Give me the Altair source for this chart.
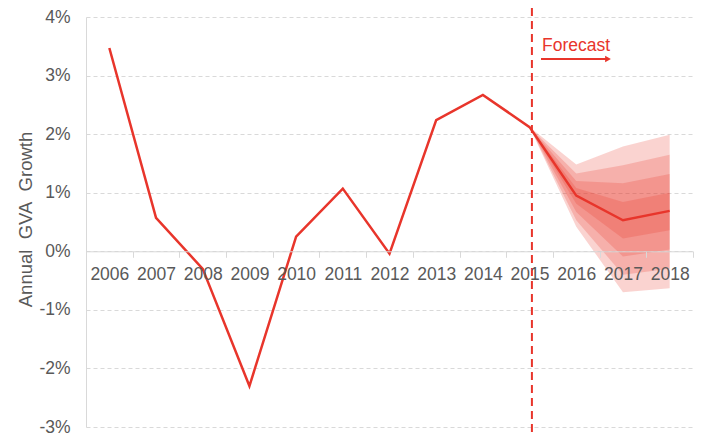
import altair as alt
import pandas as pd

years = [str(y) for y in range(2006, 2019)]
hist_years = ["2006", "2007", "2008", "2009", "2010", "2011", "2012", "2013", "2014", "2015"]
hist_growth = [3.47, 0.57, -0.30, -2.30, 0.25, 1.07, -0.04, 2.24, 2.67, 2.12]

fc_years = ["2015", "2016", "2017", "2018"]
fc_central = [2.12, 0.95, 0.53, 0.69]
fc_upper_90 = [2.12, 1.48, 1.79, 1.99]
fc_upper_70 = [2.12, 1.33, 1.47, 1.65]
fc_upper_50 = [2.12, 1.20, 1.16, 1.32]
fc_upper_30 = [2.12, 1.08, 0.84, 1.00]
fc_lower_30 = [2.12, 0.81, 0.22, 0.36]
fc_lower_50 = [2.12, 0.67, -0.09, 0.03]
fc_lower_70 = [2.12, 0.53, -0.40, -0.30]
fc_lower_90 = [2.12, 0.42, -0.70, -0.63]

RED = "#e8352b"
GREY_TXT = "#595959"
GRID = "#d9d9d9"
FONT = "Liberation Sans"
W, H = 607, 410

xscale = alt.Scale(type="band", domain=years, paddingInner=0, paddingOuter=0)
yscale = alt.Scale(domain=[-3, 4], nice=False)

line_df = pd.DataFrame({
    "year": hist_years + fc_years[1:],
    "growth": hist_growth + fc_central[1:],
})

fan_df = pd.DataFrame({
    "year": fc_years,
    "u90": fc_upper_90, "u70": fc_upper_70, "u50": fc_upper_50, "u30": fc_upper_30,
    "l30": fc_lower_30, "l50": fc_lower_50, "l70": fc_lower_70, "l90": fc_lower_90,
})

x_axis = alt.Axis(
    title=None, orient="bottom", offset=-(H * 3 / 7), tickBand="extent",
    domainColor=GRID, tickColor=GRID, tickSize=6, labelPadding=8,
    labelFont=FONT, labelFontSize=17.5, labelColor=GREY_TXT, labelAngle=0,
    labelOverlap=False, grid=False, zindex=1,
)
y_axis = alt.Axis(
    title="Annual\u00a0\u00a0GVA\u00a0\u00a0Growth", values=list(range(-3, 5)),
    labelExpr="datum.value + '%'", ticks=False, labelPadding=16,
    labelFont=FONT, labelFontSize=17.5, labelColor=GREY_TXT,
    domainColor=GRID, grid=True, gridColor=GRID, gridDash=[4, 3], gridWidth=1,
    titleFont=FONT, titleFontSize=18.5, titleFontWeight="normal", titleColor=GREY_TXT,
    titleAngle=-90, titleX=-61, titleY=H / 2 - 3, titleAlign="center", titleBaseline="middle",
)

X = alt.X("year:O", scale=xscale, axis=x_axis, bandPosition=0.5)

fan_base = alt.Chart(fan_df)
fans = []
for lo, hi in [("l90", "u90"), ("l70", "u70"), ("l50", "u50"), ("l30", "u30")]:
    fans.append(
        fan_base.mark_area(color=RED, opacity=0.22).encode(
            x=X,
            y=alt.Y(f"{lo}:Q", scale=yscale, axis=y_axis),
            y2=alt.Y2(f"{hi}:Q"),
        )
    )

line = alt.Chart(line_df).mark_line(color=RED, strokeWidth=2.5).encode(
    x=X, y=alt.Y("growth:Q", scale=yscale, axis=y_axis)
)

rule_df = pd.DataFrame({"year": ["2015"]})
vrule = alt.Chart(rule_df).mark_rule(color=RED, strokeWidth=2, strokeDash=[8, 5], clip=False).encode(
    x=alt.X("year:O", scale=xscale, bandPosition=0.55),
    y=alt.value(-22), y2=alt.value(H + 22),
)

ann_df = pd.DataFrame({"label": ["Forecast"]})
ftext = alt.Chart(ann_df).mark_text(
    align="left", baseline="alphabetic", font=FONT, fontSize=17.5, color=RED
).encode(text="label:N", x=alt.value(456), y=alt.value(33.5))
arrow = alt.Chart(ann_df).mark_rule(color=RED, strokeWidth=2).encode(
    x=alt.value(455), x2=alt.value(520), y=alt.value(42)
)
head = alt.Chart(ann_df).mark_point(
    shape="triangle-right", filled=True, color=RED, size=45, opacity=1
).encode(x=alt.value(522), y=alt.value(42))

chart = alt.layer(*fans, line, vrule, ftext, arrow, head).properties(
    width=W, height=H,
    autosize=alt.AutoSizeParams(type="none"),
    padding={"left": 78, "top": 9, "right": 5, "bottom": 9},
).configure_view(stroke=None)

chart.save("out.html", embed_options={"renderer": "svg", "actions": False})
